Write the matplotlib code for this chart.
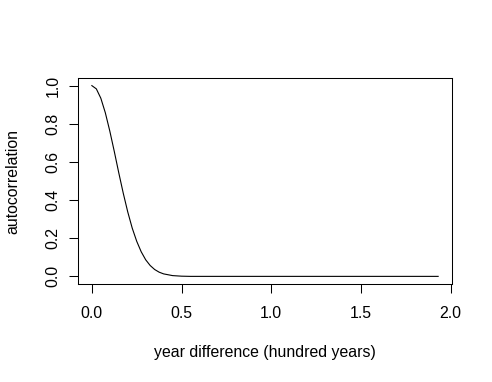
import numpy as np
import matplotlib
matplotlib.use("Agg")
import matplotlib.pyplot as plt

# values
year_diff = [0.0, 0.025, 0.05, 0.075, 0.1, 0.125, 0.15, 0.175, 0.2, 0.225,
             0.25, 0.275, 0.3, 0.325, 0.35, 0.375, 0.4, 0.45, 0.5, 0.55,
             0.6, 0.8, 1.0, 1.2, 1.4, 1.6, 1.8, 1.93]
autocorr = [1.0, 0.983, 0.934, 0.858, 0.762, 0.655, 0.543, 0.436, 0.338, 0.253,
            0.184, 0.129, 0.087, 0.057, 0.036, 0.022, 0.013, 0.004, 0.001, 0.0,
            0.0, 0.0, 0.0, 0.0, 0.0, 0.0, 0.0, 0.0]

xticks = [0.0, 0.5, 1.0, 1.5, 2.0]
yticks = [0.0, 0.2, 0.4, 0.6, 0.8, 1.0]

plt.rcParams['font.family'] = ['Liberation Sans', 'DejaVu Sans']

fig = plt.figure(figsize=(4.92, 3.82), dpi=100)
ax = fig.add_axes([78/492, 1 - 284/382, 374/492, 206/382])

ax.plot(year_diff, autocorr, color='black', lw=0.8)

span = max(year_diff) - min(year_diff)
ax.set_xlim(min(year_diff) - 0.04*span, max(year_diff) + 0.04*span)
ax.set_ylim(-0.04, 1.04)

ax.set_xticks(xticks)
ax.set_xticklabels(["%.1f" % v for v in xticks])
ax.set_yticks(yticks)
ax.set_yticklabels(["%.1f" % v for v in yticks], rotation=90, va='center')

fs = 11.4
ax.tick_params(length=6.5, width=0.75, labelsize=fs)
ax.tick_params(axis='x', pad=9.5)
ax.tick_params(axis='y', pad=6)
for s in ax.spines.values():
    s.set_linewidth(0.75)

ax.set_xlabel("year difference (hundred years)", fontsize=fs, va='center')
ax.xaxis.set_label_coords(0.5, (284 - 353) / 206)
ax.set_ylabel("autocorrelation", fontsize=fs, va='center')
ax.yaxis.set_label_coords((13 - 78) / 374, 0.5)

fig.savefig("out.png", dpi=100)
